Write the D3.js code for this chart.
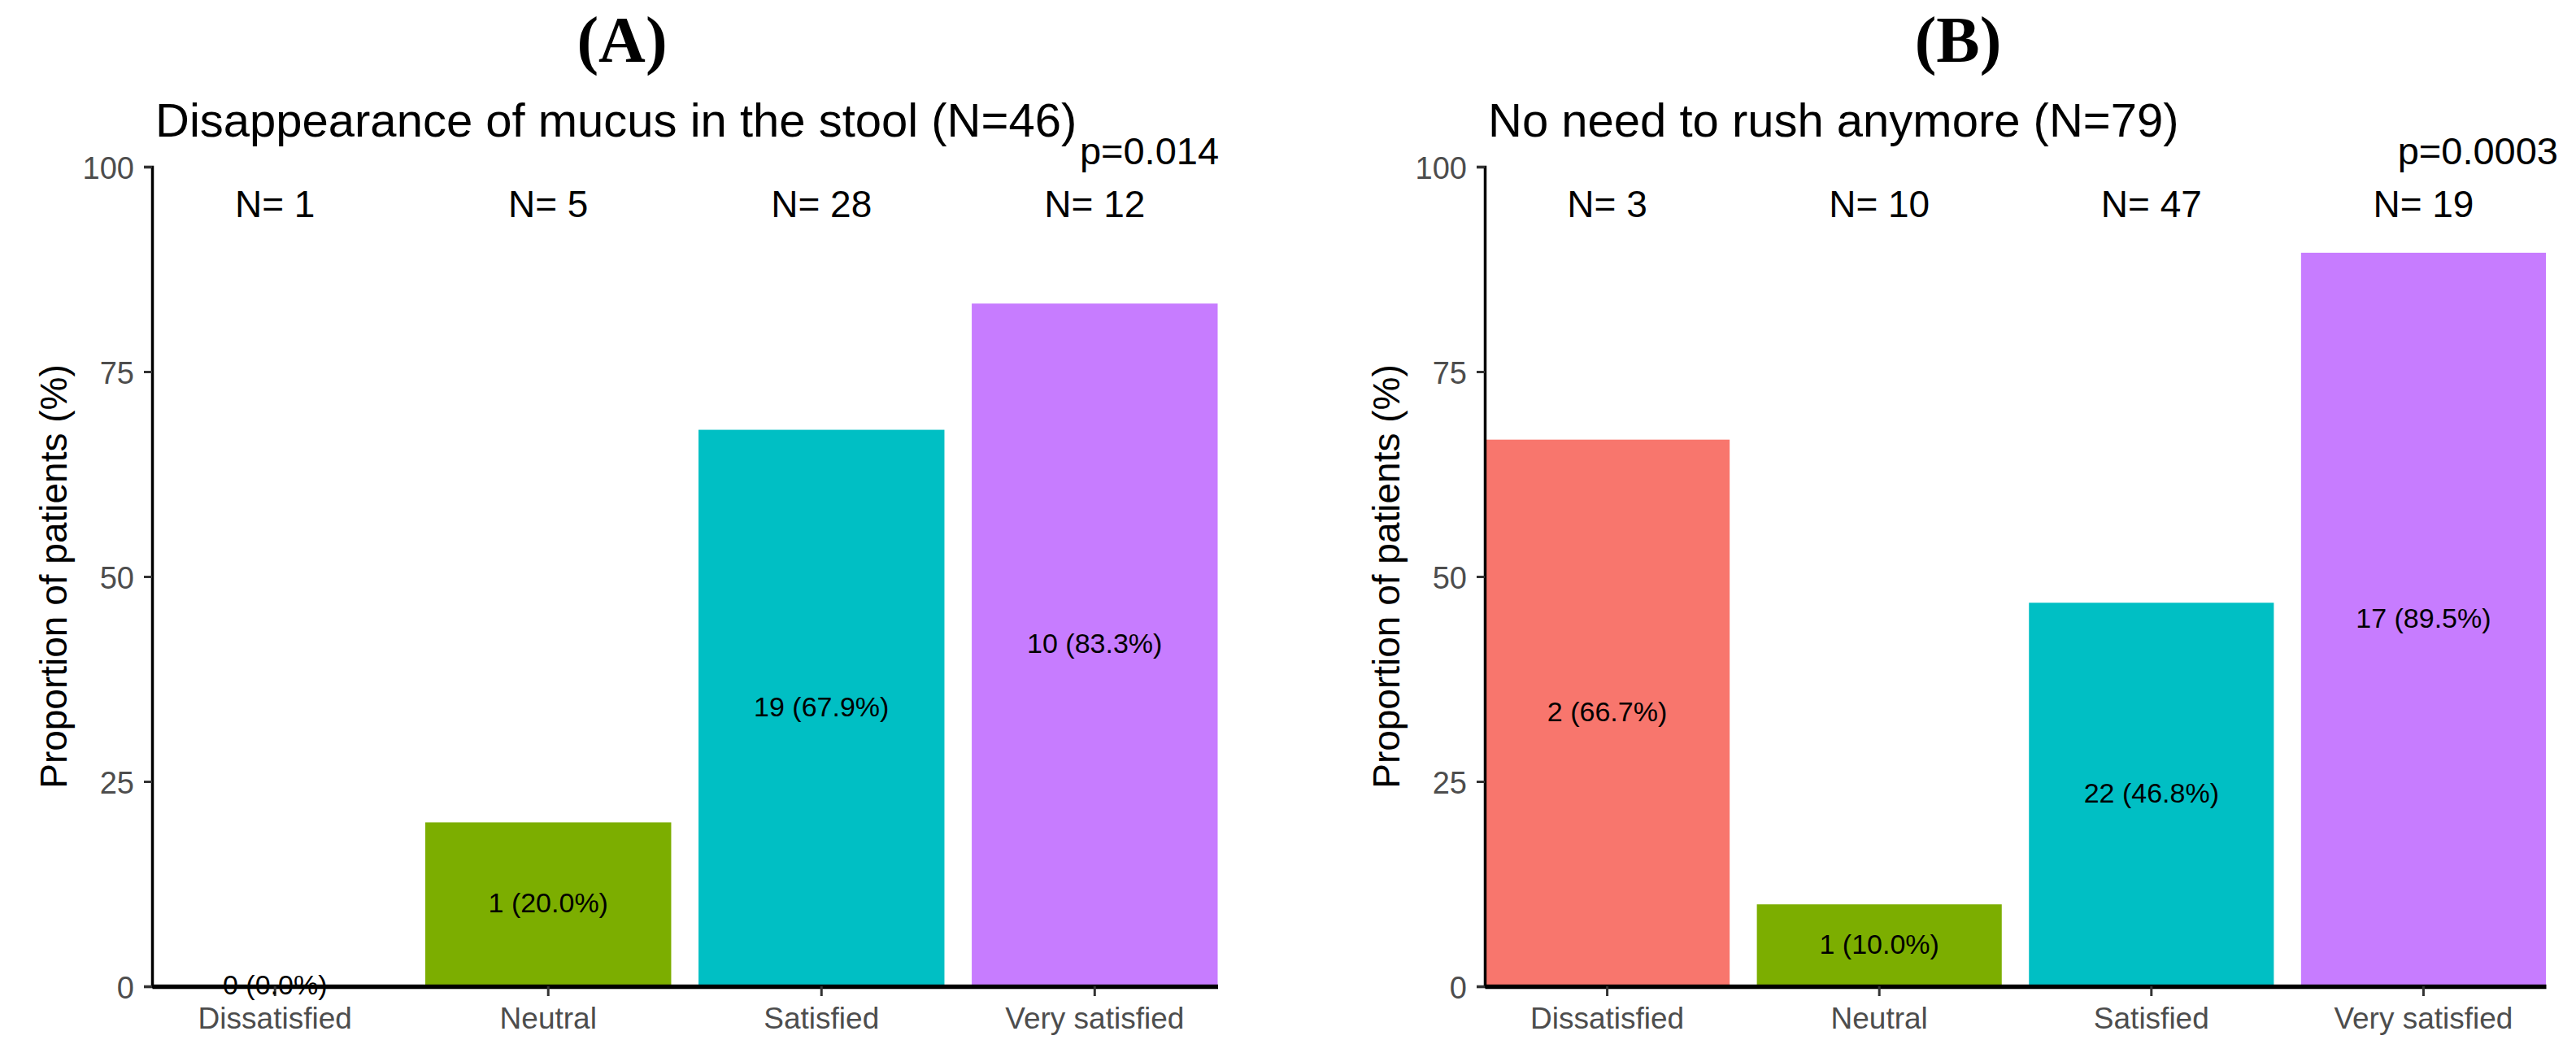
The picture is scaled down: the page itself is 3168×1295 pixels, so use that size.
<!DOCTYPE html>
<html>
  <head>
    <style>
      body { margin: 0; background: #fff; }
      svg { display: block; }
      .title { font: 58px "Liberation Sans", Arial, sans-serif; fill: #000; }
      .letter { font: bold 80px "Liberation Serif", "Times New Roman", serif; fill: #000; text-anchor: middle; }
      .nlab { font: 46px "Liberation Sans", Arial, sans-serif; fill: #000; text-anchor: middle; }
      .plab { font: 47px "Liberation Sans", Arial, sans-serif; fill: #000; text-anchor: middle; }
      .barlab { font: 34px "Liberation Sans", Arial, sans-serif; fill: #000; text-anchor: middle; }
      .ylab { font: 46px "Liberation Sans", Arial, sans-serif; fill: #000; text-anchor: middle; }
      .axis text { font: 38px "Liberation Sans", Arial, sans-serif; fill: #4d4d4d; }
      .xaxis text { font-size: 37px; }
    </style>
  </head>
  <body>
    <script src="https://d3js.org/d3.v7.min.js"></script>
    <svg></svg>
    <script>
      // chart data
      const categories = ["Dissatisfied", "Neutral", "Satisfied", "Very satisfied"];
      const barColors = ["#F8766D", "#7CAE00", "#00BFC4", "#C77CFF"];
      const yTicks = [0, 25, 50, 75, 100];

      const letters = ["(A)", "(B)"];
      const titles = ["Disappearance of mucus in the stool (N=46)", "No need to rush anymore (N=79)"];
      const pValues = ["p=0.014", "p=0.0003"];

      const groupNA = [1, 5, 28, 12];
      const yesA = [0, 1, 19, 10];
      const pctA = [0.0, 20.0, 67.9, 83.3];

      const groupNB = [3, 10, 47, 19];
      const yesB = [2, 1, 22, 17];
      const pctB = [66.7, 10.0, 46.8, 89.5];

      const panels = [
        { n: groupNA, yes: yesA, pct: pctA },
        { n: groupNB, yes: yesB, pct: pctB }
      ];

      const W = 3168, H = 1295;
      const svg = d3.select("svg").attr("width", W).attr("height", H);

      // plot areas of the two panels
      const layout = [
        { left: 187, right: 1497.5, letterX: 765 },
        { left: 1826, right: 3131, letterX: 2408 }
      ];
      const plotTop = 205, plotBottom = 1213;

      const y = d3.scaleLinear().domain([0, 100]).range([plotBottom, plotTop]);

      panels.forEach((p, i) => {
        const L = layout[i];
        const g = svg.append("g");

        const x = d3.scaleBand()
          .domain(categories)
          .range([L.left, L.right])
          .paddingInner(0.1)
          .paddingOuter(0);

        const rows = categories.map((c, j) => ({
          cat: c, n: p.n[j], yes: p.yes[j], pct: p.pct[j], color: barColors[j]
        }));

        // bars
        g.selectAll(".bar")
          .data(rows)
          .enter()
          .append("rect")
          .attr("x", d => x(d.cat))
          .attr("width", x.bandwidth())
          .attr("y", d => y(d.pct))
          .attr("height", d => y(0) - y(d.pct))
          .attr("fill", d => d.color);

        // y axis
        const ya = g.append("g")
          .attr("class", "axis")
          .attr("transform", `translate(${L.left},0)`)
          .call(d3.axisLeft(y).tickValues(yTicks).tickSize(10).tickPadding(12));
        ya.select(".domain").attr("stroke", "#000").attr("stroke-width", 3.5);
        ya.selectAll(".tick line").attr("stroke", "#333").attr("stroke-width", 3);
        ya.selectAll(".tick text").attr("dy", "0.38em");

        // x axis
        const xa = g.append("g")
          .attr("class", "axis xaxis")
          .attr("transform", `translate(0,${plotBottom})`)
          .call(d3.axisBottom(x).tickSize(12).tickPadding(14).tickSizeOuter(0));
        xa.select(".domain").attr("stroke", "#000").attr("stroke-width", 5.5);
        xa.selectAll(".tick line").attr("stroke", "#333").attr("stroke-width", 3);
        xa.selectAll(".tick text").attr("dy", "0.71em");

        // labels in the middle of bars
        g.selectAll(".barlab")
          .data(rows)
          .enter()
          .append("text")
          .attr("class", "barlab")
          .attr("x", d => x(d.cat) + x.bandwidth() / 2)
          .attr("y", d => y(d.pct / 2))
          .attr("dy", "0.3em")
          .text(d => `${d.yes} (${d.pct.toFixed(1)}%)`);

        // group sizes above
        g.selectAll(".nlab")
          .data(rows)
          .enter()
          .append("text")
          .attr("class", "nlab")
          .attr("x", d => x(d.cat) + x.bandwidth() / 2)
          .attr("y", y(93.8))
          .text(d => "N= " + d.n);

        // p value
        g.append("text")
          .attr("class", "plab")
          .attr("x", x(categories[3]) + x.bandwidth() / 2 + 0.2 * x.step())
          .attr("y", y(100) - 3)
          .text(pValues[i]);

        // title
        g.append("text")
          .attr("class", "title")
          .attr("x", L.left + 4)
          .attr("y", 168)
          .text(titles[i]);

        // panel letter
        g.append("text")
          .attr("class", "letter")
          .attr("x", L.letterX)
          .attr("y", 76)
          .text(letters[i]);

        // y axis label
        g.append("text")
          .attr("class", "ylab")
          .attr("transform", `translate(${L.left - 105},${(plotTop + plotBottom) / 2}) rotate(-90)`)
          .text("Proportion of patients (%)");
      });
    </script>
  </body>
</html>
